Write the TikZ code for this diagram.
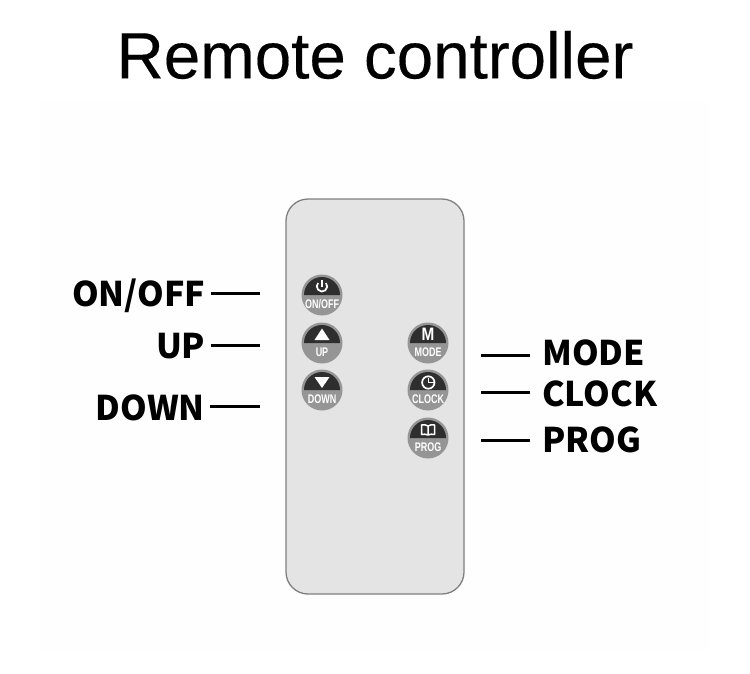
\documentclass[tikz,border=0pt]{standalone}
\usepackage{fontspec}
\setmainfont{Liberation Sans}
\newfontfamily\labelfont{Noto Sans CJK SC}
\newfontfamily\titlefont[FakeBold=0.25]{Liberation Sans}
\definecolor{bodygray}{HTML}{E4E4E4}
\definecolor{edgegray}{HTML}{808080}
\definecolor{ringgray}{HTML}{959595}
\definecolor{darktop}{HTML}{2E2E2E}
\definecolor{panel}{HTML}{FEFEFE}
\tikzset{
  x=1pt,y=-1pt,
  callout/.style={font=\labelfont\fontsize{34}{34}\selectfont\bfseries,text=black,inner sep=0pt,text height=25pt,text depth=0pt},
  leader/.style={draw=black,line width=3pt},
  iconline/.style={draw=white,line width=1.7pt},
  buttonbody/.style={circle,fill=ringgray,minimum size=41pt,inner sep=0pt},
  btntext/.style={text=white,inner sep=0pt,font=\fontsize{12.5}{12.5}\selectfont\bfseries,xscale=.72}
}
\newcommand{\remotebtn}[4]{% name, x, y, label
  \node[buttonbody] (#1) at (#2,#3) {};
  \fill[darktop] (#2-18,#3) arc[start angle=180,end angle=360,radius=18pt,y radius=-18pt] -- cycle;
  \node[btntext] at (#2,#3+9) {#4};
}
\begin{document}
\begin{tikzpicture}
\useasboundingbox (0,0) rectangle (750,674);
\fill[white] (0,0) rectangle (750,674);
\fill[panel] (40,102) rectangle (710,650);
\node[inner sep=0pt,font=\titlefont\fontsize{65.5}{65.5}\selectfont] (title) at (375,55) {Remote controller};
\draw[draw=edgegray,fill=bodygray,line width=1.3pt,rounded corners=22pt] (286,199) rectangle (464,594);
\remotebtn{onoff}{322}{295}{ON/OFF}
\remotebtn{up}{322}{343}{UP}
\remotebtn{down}{322}{390}{DOWN}
\remotebtn{mode}{428}{343}{MODE}
\remotebtn{clock}{428}{390}{CLOCK}
\remotebtn{prog}{428}{438}{PROG}
% icons
\draw[iconline] (322,280) -- (322,286.5);
\draw[iconline] (326,283) arc[start angle=-40,end angle=220,radius=5.2pt,y radius=-5.2pt];
\fill[white] (322,328.5) -- (329.5,340) -- (314.5,340) -- cycle;
\fill[white] (322,388) -- (329.5,377) -- (314.5,377) -- cycle;
\node[text=white,inner sep=0pt,xscale=.85,font=\fontsize{18}{18}\selectfont\bfseries] at (428,334.7) {M};
\draw[iconline] (428.3,382.5) circle[radius=6.2pt];
\draw[draw=white,line width=1.3pt] (428.3,378) -- (428.3,382.5) -- (433.5,382.5);
\draw[draw=white,line width=1.5pt,line join=round] (428,426) .. controls (426,424.5) and (423.5,424.5) .. (421.5,425) -- (421.5,434.5) .. controls (423.5,434) and (426,434) .. (428,435) .. controls (430,434) and (432.5,434) .. (434.5,434.5) -- (434.5,425) .. controls (432.5,424.5) and (430,424.5) .. (428,426) -- (428,435);
% callouts
\node[callout,anchor=east] (lonoff) at (205.5,294) {ON/OFF};
\node[callout,anchor=east] (lup) at (205.5,346) {UP};
\node[callout,anchor=east] (ldown) at (205,407.5) {DOWN};
\node[callout,anchor=west] (lmode) at (542,353) {MODE};
\node[callout,anchor=west] (lclock) at (542,394) {CLOCK};
\node[callout,anchor=west] (lprog) at (542,440) {PROG};
\coordinate (conoff) at (260,293.5);
\coordinate (cup) at (260,345.5);
\coordinate (cdown) at (260,406);
\coordinate (cmode) at (481,355);
\coordinate (cclock) at (481,392);
\coordinate (cprog) at (481,440);
\draw[leader,shorten <=5pt] (lonoff.east |- conoff) -- (conoff);
\draw[leader,shorten <=5pt] (lup.east |- cup) -- (cup);
\draw[leader,shorten <=5pt] (ldown.east |- cdown) -- (cdown);
\draw[leader,shorten <=12pt] (lmode.west |- cmode) -- (cmode);
\draw[leader,shorten <=12pt] (lclock.west |- cclock) -- (cclock);
\draw[leader,shorten <=12pt] (lprog.west |- cprog) -- (cprog);
\end{tikzpicture}
\end{document}
